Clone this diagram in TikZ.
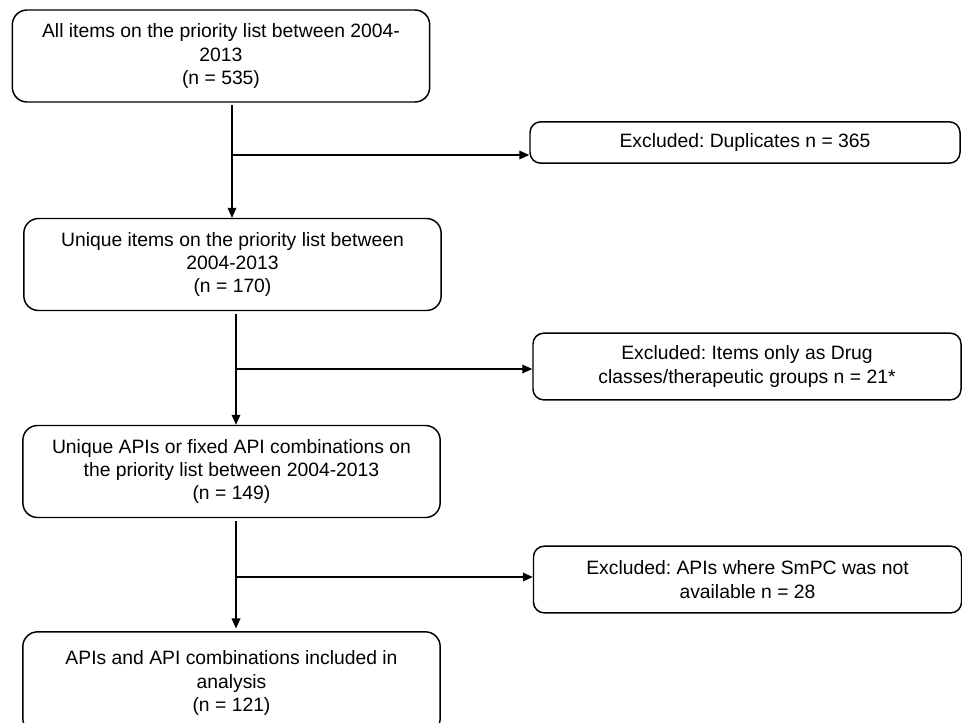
\documentclass[tikz,border=0pt]{standalone}
\usepackage{fontspec}
\setmainfont{Liberation Sans}
\usetikzlibrary{arrows.meta}
\frenchspacing
\begin{document}
\begin{tikzpicture}[
        x=0.75pt,
        y=-0.75pt,
        every path/.style={>={Triangle[length=7.5pt,width=6.5pt]}},
        flowbox/.style={draw,rounded corners=11pt,align=center,line width=1.1pt,
                        minimum width=313pt,minimum height=69pt,inner sep=0pt},
        exclbox/.style={draw,rounded corners=8pt,align=center,line width=1.1pt,
                        minimum width=321pt,inner sep=0pt},
        line width=1pt,
        font=\fontsize{14.5}{17.6}\selectfont
        ]
        \useasboundingbox (0,0) rectangle (962,722);

        % nodes
        \node[flowbox] (all)  at (221,56)    {All items on the priority list between 2004-\\2013\\(n = 535)};
        \node[flowbox] (uniq) at (232.5,264.5) {Unique items on the priority list between\\2004-2013\\(n = 170)};
        \node[flowbox] (apis) at (231.5,471.5) {Unique APIs or fixed API combinations on\\the priority list between 2004-2013\\(n = 149)};
        \node[flowbox,minimum height=76pt] (incl) at (231.5,682.5) {\\[-6pt]APIs and API combinations included in\\analysis\\(n = 121)};

        \node[exclbox,minimum width=322.5pt,minimum height=31pt] (dup)  at (745,142.5)   {Excluded: Duplicates n = 365};
        \node[exclbox,minimum height=50pt] (cls)  at (747,366.5)   {Excluded: Items only as Drug\\classes/therapeutic groups n = 21*};
        \node[exclbox,minimum height=50pt] (smpc) at (747.5,579.5) {Excluded: APIs where SmPC was not\\available n = 28};

        % branch points
        \coordinate (j1) at (232,155);
        \coordinate (j2) at (236,369);
        \coordinate (j3) at (236,577);

        % edges
        \draw[->,shorten <=2pt] (all.south -| j1)  -- (uniq.north -| j1);
        \draw[->,shorten <=2pt] (uniq.south -| j2) -- (apis.north -| j2);
        \draw[->,shorten <=2pt,shorten >=2pt] (apis.south -| j3) -- (incl.north -| j3);

        \draw[->] (j1) -- (j1 -| dup.west);
        \draw[->] (j2) -- (j2 -| cls.west);
        \draw[->] (j3) -- (j3 -| smpc.west);

    \end{tikzpicture}
\end{document}
